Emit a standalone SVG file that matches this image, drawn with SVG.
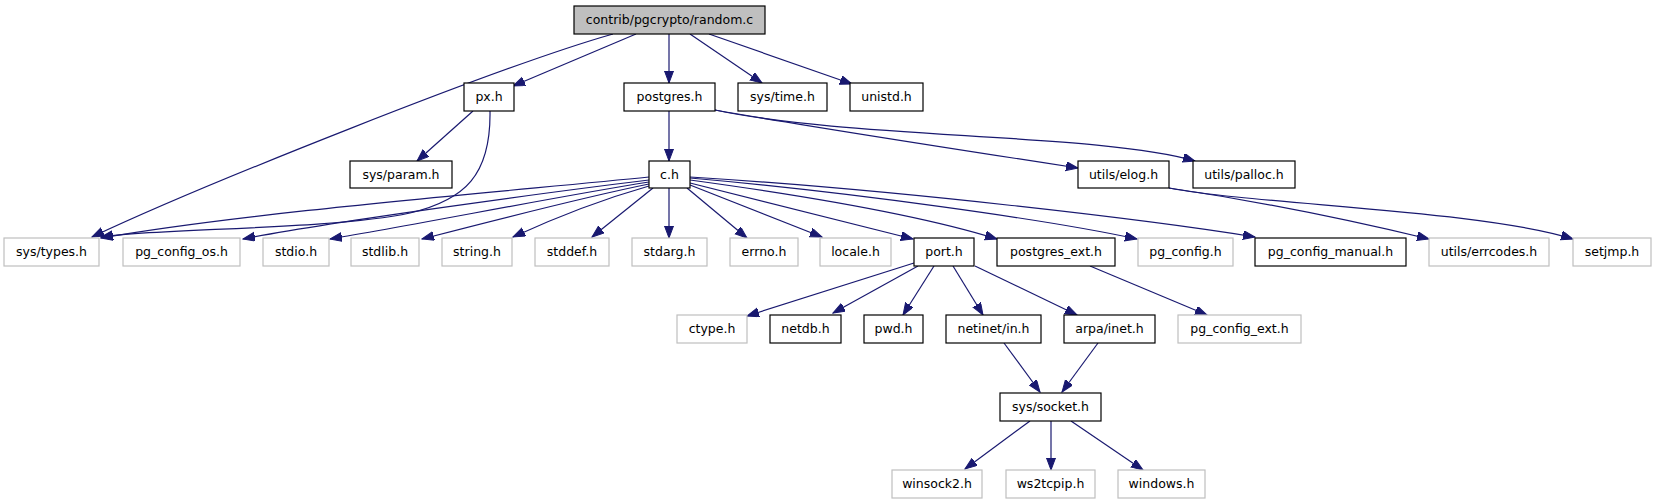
<svg xmlns="http://www.w3.org/2000/svg" width="1656" height="504" viewBox="0 0 1656 504">
<style>
rect{stroke-width:1.2}
.k rect{fill:#fff;stroke:#000}
.g rect{fill:#fff;stroke:#bfbfbf}
.r rect{fill:#bfbfbf;stroke:#000}
text{font-family:"DejaVu Sans",Verdana,sans-serif;font-size:12.5px;fill:#000;text-anchor:middle}
#edges path{fill:none;stroke:#191970;stroke-width:1.2;marker-end:url(#ah)}
</style>
<defs>
<marker id="ah" markerUnits="userSpaceOnUse" markerWidth="13" markerHeight="10" refX="12" refY="4.5" orient="auto">
<path d="M0,0 L12,4.5 L0,9 z" fill="#191970" stroke="#191970" stroke-width="1"/>
</marker>
</defs>
<rect width="1656" height="504" fill="#fff"/>
<g id="edges">
<path d="M613,34 C500,66 200,186 92,237"/>
<path d="M636,34 L513,86"/>
<path d="M669,34 L669,83"/>
<path d="M690,34 L762,83"/>
<path d="M709,34 L852,84"/>
<path d="M473,111 L417,161"/>
<path d="M490,111 C491,175 465,200 410,213 C330,230 160,228 101,237"/>
<path d="M669,111 L669,161"/>
<path d="M715,110 C800,125 1000,156 1078,168"/>
<path d="M715,110 C850,139 1100,133 1195,161"/>
<path d="M1169,188 C1250,200 1350,220 1429,239"/>
<path d="M1169,188 C1260,205 1480,210 1573,239"/>
<path d="M649,177 C500,192 250,212 101,238"/>
<path d="M649,180 C550,192 330,222 243,239"/>
<path d="M649,182 C560,196 420,224 330,239"/>
<path d="M649,184 C580,198 480,224 422,239"/>
<path d="M649,186 C600,200 550,220 513,237"/>
<path d="M653,188 L592,237"/>
<path d="M669,188 L669,238"/>
<path d="M687,188 L747,238"/>
<path d="M690,185 L822,237"/>
<path d="M690,183 L913,239"/>
<path d="M690,180 C800,195 920,215 997,239"/>
<path d="M690,178 C850,192 1050,220 1137,239"/>
<path d="M690,177 C900,190 1150,220 1255,237"/>
<path d="M914,263 L747,316"/>
<path d="M918,266 L833,313"/>
<path d="M934,266 L903,315"/>
<path d="M953,266 L983,315"/>
<path d="M975,266 L1077,315"/>
<path d="M1090,266 L1207,315"/>
<path d="M1004,343 L1040,392"/>
<path d="M1098,343 L1062,392"/>
<path d="M1030,421 L965,469"/>
<path d="M1051,421 L1051,470"/>
<path d="M1071,421 L1143,470"/>
</g>
<g id="n_random" class="r"><rect x="574" y="6" width="191" height="28"/><text x="669.5" y="24">contrib/pgcrypto/random.c</text></g>
<g id="n_px" class="k"><rect x="464" y="83" width="50" height="28"/><text x="489" y="101">px.h</text></g>
<g id="n_postgres" class="k"><rect x="624" y="83" width="91" height="28"/><text x="669.5" y="101">postgres.h</text></g>
<g id="n_systime" class="k"><rect x="738" y="83" width="89" height="28"/><text x="782.5" y="101">sys/time.h</text></g>
<g id="n_unistd" class="k"><rect x="850" y="83" width="73" height="28"/><text x="886.5" y="101">unistd.h</text></g>
<g id="n_sysparam" class="k"><rect x="350" y="161" width="102" height="27"/><text x="401" y="179">sys/param.h</text></g>
<g id="n_c" class="k"><rect x="649" y="161" width="41" height="27"/><text x="669.5" y="179">c.h</text></g>
<g id="n_elog" class="k"><rect x="1078" y="161" width="91" height="27"/><text x="1123.5" y="179">utils/elog.h</text></g>
<g id="n_palloc" class="k"><rect x="1193" y="161" width="102" height="27"/><text x="1244" y="179">utils/palloc.h</text></g>
<g id="n_systypes" class="g"><rect x="4" y="238" width="95" height="28"/><text x="51.5" y="256">sys/types.h</text></g>
<g id="n_pgconfigos" class="g"><rect x="123" y="238" width="117" height="28"/><text x="181.5" y="256">pg_config_os.h</text></g>
<g id="n_stdio" class="g"><rect x="263" y="238" width="66" height="28"/><text x="296" y="256">stdio.h</text></g>
<g id="n_stdlib" class="g"><rect x="351" y="238" width="68" height="28"/><text x="385" y="256">stdlib.h</text></g>
<g id="n_string" class="g"><rect x="442" y="238" width="70" height="28"/><text x="477" y="256">string.h</text></g>
<g id="n_stddef" class="g"><rect x="535" y="238" width="74" height="28"/><text x="572" y="256">stddef.h</text></g>
<g id="n_stdarg" class="g"><rect x="632" y="238" width="75" height="28"/><text x="669.5" y="256">stdarg.h</text></g>
<g id="n_errno" class="g"><rect x="730" y="238" width="68" height="28"/><text x="764" y="256">errno.h</text></g>
<g id="n_locale" class="g"><rect x="820" y="238" width="71" height="28"/><text x="855.5" y="256">locale.h</text></g>
<g id="n_port" class="k"><rect x="914" y="238" width="60" height="28"/><text x="944" y="256">port.h</text></g>
<g id="n_postgresext" class="k"><rect x="997" y="238" width="118" height="28"/><text x="1056" y="256">postgres_ext.h</text></g>
<g id="n_pgconfig" class="g"><rect x="1138" y="238" width="95" height="28"/><text x="1185.5" y="256">pg_config.h</text></g>
<g id="n_pgconfigmanual" class="k"><rect x="1255" y="238" width="151" height="28"/><text x="1330.5" y="256">pg_config_manual.h</text></g>
<g id="n_errcodes" class="g"><rect x="1429" y="238" width="120" height="28"/><text x="1489" y="256">utils/errcodes.h</text></g>
<g id="n_setjmp" class="g"><rect x="1573" y="238" width="78" height="28"/><text x="1612" y="256">setjmp.h</text></g>
<g id="n_ctype" class="g"><rect x="677" y="315" width="70" height="28"/><text x="712" y="333">ctype.h</text></g>
<g id="n_netdb" class="k"><rect x="770" y="315" width="71" height="28"/><text x="805.5" y="333">netdb.h</text></g>
<g id="n_pwd" class="k"><rect x="864" y="315" width="59" height="28"/><text x="893.5" y="333">pwd.h</text></g>
<g id="n_netinet" class="k"><rect x="946" y="315" width="95" height="28"/><text x="993.5" y="333">netinet/in.h</text></g>
<g id="n_arpa" class="k"><rect x="1064" y="315" width="91" height="28"/><text x="1109.5" y="333">arpa/inet.h</text></g>
<g id="n_pgconfigext" class="g"><rect x="1178" y="315" width="123" height="28"/><text x="1239.5" y="333">pg_config_ext.h</text></g>
<g id="n_syssocket" class="k"><rect x="1000" y="393" width="101" height="28"/><text x="1050.5" y="411">sys/socket.h</text></g>
<g id="n_winsock2" class="g"><rect x="892" y="470" width="90" height="28"/><text x="937" y="488">winsock2.h</text></g>
<g id="n_ws2tcpip" class="g"><rect x="1006" y="470" width="89" height="28"/><text x="1050.5" y="488">ws2tcpip.h</text></g>
<g id="n_windows" class="g"><rect x="1118" y="470" width="87" height="28"/><text x="1161.5" y="488">windows.h</text></g>
</svg>
